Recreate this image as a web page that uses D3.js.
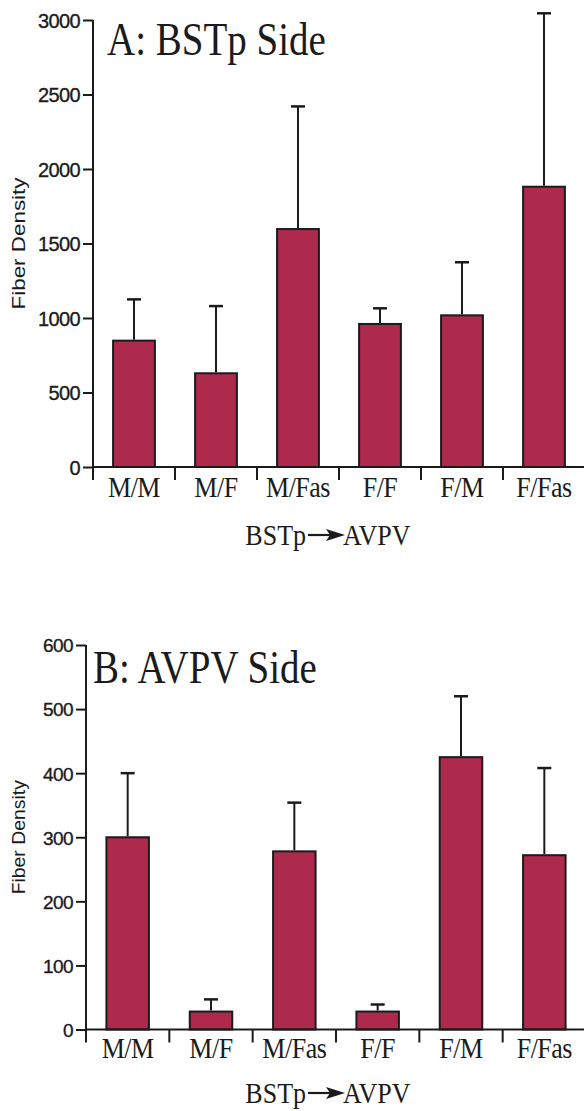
<!DOCTYPE html>
<html>
<head>
<meta charset="utf-8">
<script src="https://cdn.jsdelivr.net/npm/d3@7"></script>
<style>
  html, body { margin: 0; padding: 0; background: #fff; }
  svg { display: block; }
</style>
</head>
<body>
<svg id="chart" width="584" height="1111"></svg>
<script>
// ---- DATA ----
const categories = ["M/M", "M/F", "M/Fas", "F/F", "F/M", "F/Fas"];
const bstpMeans  = [848, 629, 1597, 960, 1018, 1881];
const bstpErrors = [277, 451, 823, 105, 356, 1164];
const avpvMeans  = [300, 28, 278, 28, 425, 272];
const avpvErrors = [100, 19, 76, 11, 95, 136];
const bstpTicks  = [0, 500, 1000, 1500, 2000, 2500, 3000];
const avpvTicks  = [0, 100, 200, 300, 400, 500, 600];
const titleA = "A: BSTp Side";
const titleB = "B: AVPV Side";
const yLabel = "Fiber Density";
const xLabelLeft = "BSTp";
const xLabelRight = "AVPV";

const barColor = "#ad2a4d";
const ink = "#1b1b1b";
const svg = d3.select("#chart");

function panel(opts, means, errors, ticks, title) {
  const g = svg.append("g");
  const x = d3.scaleBand().domain(categories).range([opts.x0, opts.x1]).paddingInner(0.49).paddingOuter(0.245);
  const xb = d3.scaleBand().domain(categories).range([opts.x0, opts.x1]);
  const y = d3.scaleLinear().domain([ticks[0], ticks[ticks.length - 1]]).range([opts.y0, opts.y1]);

  // y axis
  const yAxis = d3.axisLeft(y).tickValues(ticks).tickSize(10).tickPadding(3).tickFormat(d3.format("d"));
  const ya = g.append("g").attr("transform", `translate(${opts.x0},0)`).call(yAxis);
  ya.select(".domain").attr("stroke", ink).attr("stroke-width", 2).attr("d", `M0,${opts.y1}V${opts.y0}`);
  ya.selectAll(".tick line").attr("stroke", ink).attr("stroke-width", 2);
  ya.selectAll(".tick text")
    .attr("fill", ink)
    .attr("stroke", ink)
    .attr("stroke-width", 0.35)
    .attr("font-family", "Liberation Sans, Arial, sans-serif")
    .attr("font-size", opts.tickFont)
    .attr("letter-spacing", "-0.6")
    .attr("dy", "0.36em")
    .attr("x", -13);

  // bars
  g.selectAll("rect.bar").data(categories).join("rect")
    .attr("class", "bar")
    .attr("x", d => x(d))
    .attr("width", x.bandwidth())
    .attr("y", (d, i) => y(means[i]))
    .attr("height", (d, i) => y(0) - y(means[i]))
    .attr("fill", barColor)
    .attr("stroke", ink)
    .attr("stroke-width", 2);

  // error bars
  const eb = g.selectAll("g.err").data(categories).join("g").attr("class", "err");
  eb.append("line")
    .attr("x1", d => x(d) + x.bandwidth() / 2).attr("x2", d => x(d) + x.bandwidth() / 2)
    .attr("y1", (d, i) => y(means[i]) - 1).attr("y2", (d, i) => y(means[i] + errors[i]))
    .attr("stroke", ink).attr("stroke-width", 2);
  eb.append("line")
    .attr("x1", d => x(d) + x.bandwidth() / 2 - 7).attr("x2", d => x(d) + x.bandwidth() / 2 + 7)
    .attr("y1", (d, i) => y(means[i] + errors[i])).attr("y2", (d, i) => y(means[i] + errors[i]))
    .attr("stroke", ink).attr("stroke-width", 2.5);

  // x axis
  g.append("line").attr("x1", opts.x0).attr("x2", 584).attr("y1", y(0)).attr("y2", y(0))
    .attr("stroke", ink).attr("stroke-width", 2);
  const bounds = categories.map(d => xb(d)).concat([opts.x1]);
  g.selectAll("line.xt").data(bounds).join("line").attr("class", "xt")
    .attr("x1", d => d).attr("x2", d => d)
    .attr("y1", y(0)).attr("y2", y(0) + 13)
    .attr("stroke", ink).attr("stroke-width", 2);
  g.selectAll("text.xl").data(categories).join("text").attr("class", "xl")
    .attr("transform", d => `translate(${xb(d) + xb.bandwidth() / 2},${opts.xLabelY}) scale(1,1.12)`)
    .attr("text-anchor", "middle")
    .attr("font-family", "Liberation Serif, Times New Roman, serif")
    .attr("font-size", 26)
    .attr("letter-spacing", "-0.5")
    .attr("fill", ink)
    .text(d => d);

  // title
  g.append("text")
    .attr("transform", `translate(${opts.titleX},${opts.titleY}) scale(1,1.2)`)
    .attr("font-family", "Liberation Serif, Times New Roman, serif")
    .attr("font-size", 39)
    .attr("fill", ink)
    .text(title);

  // y label
  g.append("text")
    .attr("transform", `translate(25,${(opts.y0 + opts.y1) / 2}) rotate(-90) scale(${opts.yLabStretch},1)`)
    .attr("text-anchor", "middle")
    .attr("font-family", "Liberation Sans, Arial, sans-serif")
    .attr("font-size", 19)
    .attr("fill", ink)
    .text(yLabel);

  // x label with arrow
  const lab = g.append("g").attr("transform", `translate(0,${opts.axisLabelY})`);
  lab.append("text")
    .attr("transform", "translate(306,0) scale(1,1.15)")
    .attr("text-anchor", "end")
    .attr("font-family", "Liberation Serif, Times New Roman, serif")
    .attr("font-size", 26).attr("fill", ink)
    .text(xLabelLeft);
  lab.append("text")
    .attr("transform", "translate(343,0) scale(1,1.15)")
    .attr("text-anchor", "start")
    .attr("font-family", "Liberation Serif, Times New Roman, serif")
    .attr("font-size", 26).attr("fill", ink)
    .text(xLabelRight);
  lab.append("line").attr("x1", 308).attr("x2", 330).attr("y1", -10).attr("y2", -10)
    .attr("stroke", ink).attr("stroke-width", 2.2);
  lab.append("path").attr("d", "M326,-16 L345,-10 L326,-4 L330,-10 Z").attr("fill", ink);
}

panel({ x0: 93, x1: 585, y0: 467, y1: 20, tickFont: 20, xLabelY: 497, titleX: 107, titleY: 55,
        axisLabelY: 545, yLabStretch: 1.18 }, bstpMeans, bstpErrors, bstpTicks, titleA);
panel({ x0: 86, x1: 586, y0: 1029.5, y1: 645, tickFont: 19, xLabelY: 1058, titleX: 93, titleY: 683,
        axisLabelY: 1103, yLabStretch: 1.02 }, avpvMeans, avpvErrors, avpvTicks, titleB);
</script>
</body>
</html>
